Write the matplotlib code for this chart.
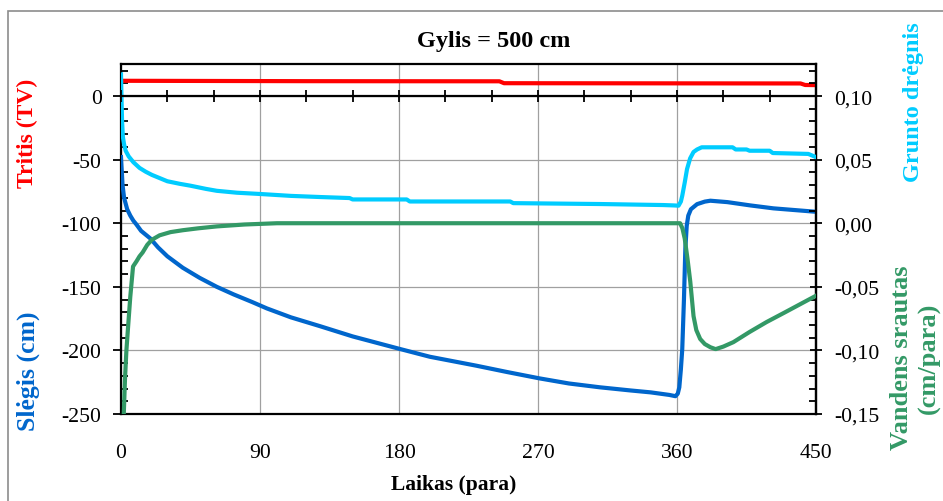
import matplotlib
matplotlib.use("Agg")
import matplotlib.pyplot as plt
from matplotlib.ticker import FixedLocator, MultipleLocator, FuncFormatter, NullFormatter
from matplotlib.patches import Rectangle

plt.rcParams['font.family'] = ['Liberation Serif', 'DejaVu Serif']
plt.rcParams['axes.unicode_minus'] = False

# --- data -------------------------------------------------------------
# Tritium (left axis, TV)
t_tritis = [0, 120, 245, 248, 440, 443, 450]
tritis = [12.0, 11.7, 11.6, 10.1, 9.9, 8.7, 8.6]

# Pressure head (left axis, cm)
t_slegis = [0, 1, 2, 4, 6, 8, 10, 13, 16, 19, 24, 30, 40, 51, 62, 73, 85,
            94.5, 110, 129, 150, 181, 200, 230, 250, 271, 290, 310, 330, 343,
            355, 359, 360.5, 361.5, 362.5, 363.4, 364.5, 365.4, 366.3, 367.3,
            369, 373, 378, 381.6, 392.6, 407.5, 422.4, 450]
slegis = [-48, -70, -80, -89, -94, -98, -101, -106, -109, -112, -119, -126,
          -135, -143, -150, -156, -162, -167, -174, -181, -189, -199, -205,
          -212, -217, -222, -226, -229, -231.5, -233, -235, -236, -234, -229,
          -215, -199, -160, -120, -102, -94, -89, -85, -83, -82.3, -83.4, -86,
          -88.3, -91]

# Soil moisture (right axis)
t_dregnis = [0, 0.3, 0.7, 1.2, 2, 3, 5, 8, 12, 16, 20, 25, 30, 38, 45, 55, 62,
             75, 90, 110, 129, 148, 150, 185, 187, 252, 254, 310, 351, 358,
             361, 362.5, 363.4, 365, 366.5, 368.5, 370.7, 373, 376, 396, 398,
             405, 407, 420, 422, 445, 450]
dregnis = [0.117, 0.100, 0.080, 0.068, 0.062, 0.057, 0.0525, 0.048, 0.0435,
           0.0405, 0.038, 0.0355, 0.033, 0.031, 0.0295, 0.027, 0.0255, 0.024,
           0.023, 0.0215, 0.0206, 0.0198, 0.0187, 0.0187, 0.0171, 0.0171,
           0.0158, 0.0151, 0.0143, 0.0140, 0.0138, 0.017, 0.0216, 0.032,
           0.0426, 0.051, 0.056, 0.058, 0.0597, 0.0597, 0.058, 0.058, 0.057,
           0.057, 0.0552, 0.0545, 0.052]

# Water flux (right axis, cm/para)
t_srautas = [1.8, 2.6, 3.5, 4.5, 6, 7.8, 10, 12, 14, 17, 20, 25, 32, 40, 50,
             62, 80, 101, 360, 362, 363.5, 365, 366.8, 368.6, 370.7, 372.5,
             375, 378, 381.6, 385, 390, 396.5, 407, 418, 430, 440, 450]
srautas = [-0.15, -0.122, -0.100, -0.083, -0.058, -0.034, -0.030, -0.026,
           -0.023, -0.017, -0.013, -0.0095, -0.007, -0.0055, -0.004, -0.0025,
           -0.001, 0.0, 0.0, 0.0, -0.004, -0.012, -0.028, -0.046, -0.073,
           -0.084, -0.091, -0.095, -0.0975, -0.099, -0.097, -0.0935, -0.0855,
           -0.0777, -0.070, -0.0635, -0.057]

x_ticks = [0, 90, 180, 270, 360, 450]
left_ticks = [-250, -200, -150, -100, -50, 0]
right_ticks = [-0.15, -0.10, -0.05, 0.00, 0.05, 0.10]

# --- styling ------------------------------------------------------------
RED = '#FF0000'
BLUE = '#0066CC'
CYAN = '#00CCFF'
GREEN = '#339966'
GRID = '#A0A0A0'
TICK_FS = 15.7
LW = 3.0
W, H = 943, 502

fig = plt.figure(figsize=(W / 100, H / 100), dpi=100)

# chart-area border
fig.patches.append(Rectangle((8 / W, -0.05), 1.2, 1 - 12 / H + 0.05,
                             transform=fig.transFigure, fill=False,
                             edgecolor='#8C8C8C', lw=1.2))

ax = fig.add_axes([121 / W, 1 - 415 / H, (816 - 121) / W, (415 - 65) / H])
ax.set_xlim(0, 450)
ax.set_ylim(-250, 25.2)

ax.xaxis.set_major_locator(FixedLocator(x_ticks))
ax.yaxis.set_major_locator(FixedLocator(left_ticks))
ax.yaxis.set_minor_locator(MultipleLocator(10))
ax.grid(True, which='major', color=GRID, lw=0.9)
ax.set_axisbelow(True)

ax.tick_params(axis='x', which='major', length=0, pad=21, labelsize=TICK_FS)
ax.tick_params(axis='y', which='major', direction='out', length=6, width=1.3,
               pad=8, labelsize=TICK_FS)
ax.tick_params(axis='y', which='minor', direction='in', length=5, width=1.3)
ax.yaxis.set_major_formatter(FuncFormatter(lambda v, p: f"{v:.0f}"))
for s in ax.spines.values():
    s.set_color('black')
    s.set_linewidth(1.6)

ax.plot(t_slegis, slegis, color=BLUE, lw=LW, solid_joinstyle='round', zorder=3)
ax.plot(t_tritis, tritis, color=RED, lw=LW, solid_joinstyle='round', zorder=3)

# right-hand scale
ax2 = ax.twinx()
ax2.set_ylim(-0.15, 0.1252)
ax2.yaxis.set_major_locator(FixedLocator(right_ticks))
ax2.yaxis.set_minor_locator(MultipleLocator(0.01))
ax2.yaxis.set_major_formatter(
    FuncFormatter(lambda v, p: f"{round(v, 2) + 0.0:.2f}".replace('.', ',')))
ax2.tick_params(axis='y', which='major', direction='inout', length=8.6,
                width=1.3, pad=8.5, labelsize=TICK_FS)
ax2.tick_params(axis='y', which='minor', direction='in', length=5, width=1.3)
for s in ax2.spines.values():
    s.set_visible(False)
ax2.spines['right'].set_visible(True)
ax2.spines['right'].set_linewidth(1.6)

ax2.plot(t_dregnis, dregnis, color=CYAN, lw=LW, solid_joinstyle='round', zorder=3)
ax2.plot(t_srautas, srautas, color=GREEN, lw=LW, solid_joinstyle='round', zorder=3)

# zero line with its own tick marks
ax3 = ax.twiny()
ax3.set_xlim(0, 450)
for name, s in ax3.spines.items():
    s.set_visible(name == 'bottom')
ax3.spines['bottom'].set_position(('data', 0))
ax3.spines['bottom'].set_linewidth(1.6)
ax3.xaxis.set_ticks_position('bottom')
ax3.xaxis.set_major_locator(MultipleLocator(30))
ax3.xaxis.set_major_formatter(NullFormatter())
ax3.tick_params(axis='x', which='major', direction='inout', length=9, width=1.3)
ax3.set_zorder(ax2.get_zorder() + 1)
ax3.patch.set_visible(False)

# titles and axis labels
fig.text(494 / W, 1 - 41 / H, 'Gylis = 500 cm', ha='center', va='center',
         fontsize=17.5, fontweight='bold')
fig.text(454 / W, 1 - 485 / H, 'Laikas (para)', ha='center', va='center',
         fontsize=15.5, fontweight='bold')
fig.text(27 / W, 1 - 133 / H, 'Tritis (TV)', ha='center', va='center',
         rotation=90, color=RED, fontsize=17, fontweight='bold')
fig.text(28 / W, 1 - 371 / H, 'Slėgis (cm)', ha='center', va='center',
         rotation=90, color=BLUE, fontsize=18.5, fontweight='bold')
fig.text(913 / W, 1 - 102 / H, 'Grunto drėgnis', ha='center', va='center',
         rotation=90, color=CYAN, fontsize=17.5, fontweight='bold')
fig.text(915 / W, 1 - 358 / H, 'Vandens srautas\n(cm/para)', ha='center',
         va='center', rotation=90, color=GREEN, fontsize=19, fontweight='bold',
         multialignment='center', linespacing=1.25)

fig.savefig('out.png', dpi=100)
